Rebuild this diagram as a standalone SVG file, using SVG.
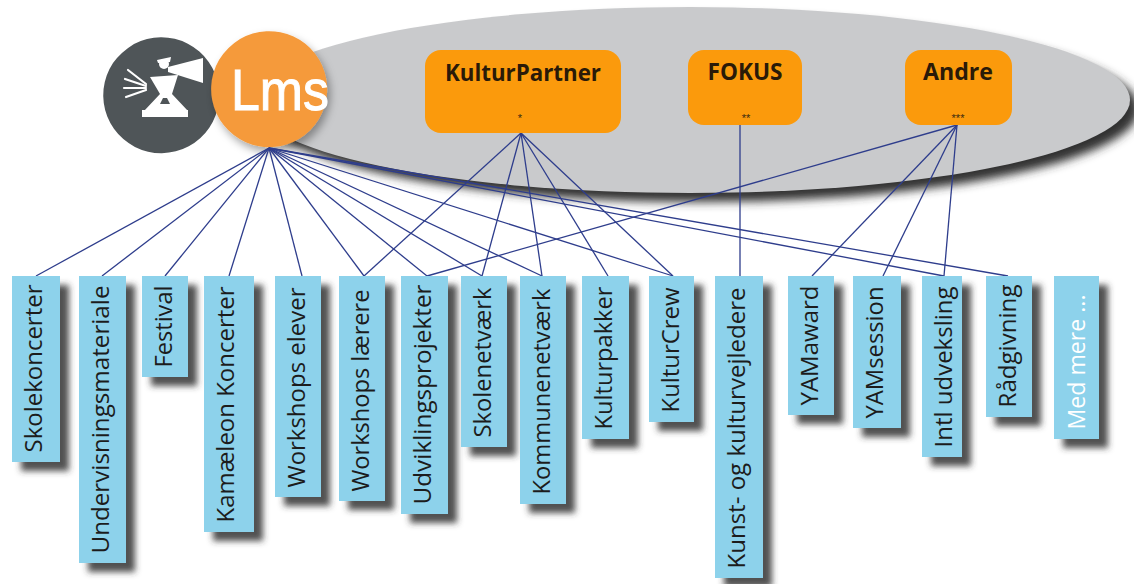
<svg xmlns="http://www.w3.org/2000/svg" width="1134" height="584" viewBox="0 0 1134 584">
<defs>
<filter id="shadow" x="-30%" y="-10%" width="170%" height="130%">
<feDropShadow dx="9" dy="9" stdDeviation="3" flood-color="#333" flood-opacity="0.85"/>
</filter>
<filter id="blur" x="-10%" y="-20%" width="120%" height="140%">
<feGaussianBlur stdDeviation="5"/>
</filter>
<filter id="soft" x="-20%" y="-20%" width="150%" height="150%">
<feDropShadow dx="3" dy="5" stdDeviation="4" flood-color="#000" flood-opacity="0.35"/>
</filter>
<style>
.item rect{fill:#8dd2eb;filter:url(#shadow)}
.item text{font-family:"Open Sans","Liberation Sans",sans-serif;font-size:24px;fill:#1c1c1c}
.item text.light{fill:#ffffff}
.top rect{fill:#fb9a0c}
.top .title{font-family:"Open Sans","Liberation Sans",sans-serif;font-weight:bold;font-size:24px;fill:#2a1a08;text-anchor:middle}
.top .star{font-family:"Liberation Sans",sans-serif;font-size:11px;fill:#3a2a10;text-anchor:middle}
#connectors line{stroke:#2e3d8c;stroke-width:1.3}
</style>
</defs>
<rect width="1134" height="584" fill="#ffffff"/>

<g id="ellipse">
<ellipse cx="699" cy="109" rx="440" ry="93" fill="#333333" filter="url(#blur)"/>
<ellipse cx="690" cy="100" rx="440" ry="93" fill="#c9cacc"/>
</g>

<g id="logo">
<path d="M134,44 A58,58 0 1 1 113,63 Q121,52 134,44 Z" fill="#4f5558"/>
<g fill="#ffffff">
<circle cx="164" cy="64" r="5"/>
<path d="M157,60 L171,57 L170,62 L158,63 Z"/>
<path d="M168,67 L203,58 L203,83 L168,72 Z"/>
<path d="M150,77 L178,75 L172,94 L188,111 L144,111 L160,94 Z"/>
<rect x="142" y="110" width="46" height="7"/>
</g>
<path d="M163,98 L167,98 L170,104 L160,104 Z" fill="#4f5558"/>
<g stroke="#ffffff" stroke-width="2.2" stroke-linecap="round">
<line x1="146" y1="84" x2="128" y2="70"/>
<line x1="146" y1="86" x2="125" y2="79"/>
<line x1="146" y1="88" x2="124" y2="88"/>
<line x1="146" y1="90" x2="126" y2="97"/>
</g>
<g filter="url(#soft)">
<path d="M240,39 A58,58 0 1 1 219,60 Q227,47 240,39 Z" fill="#f59a3b"/>
</g>
<text x="231" y="110" font-family="Liberation Sans,sans-serif" font-size="58" fill="#ffffff" stroke="#ffffff" stroke-width="1" textLength="98" lengthAdjust="spacingAndGlyphs">Lms</text>
</g>

<g id="connectors">
<line x1="269" y1="148" x2="36" y2="276"/>
<line x1="269" y1="148" x2="102" y2="276"/>
<line x1="269" y1="148" x2="165" y2="276"/>
<line x1="269" y1="148" x2="229" y2="276"/>
<line x1="269" y1="148" x2="302" y2="276"/>
<line x1="269" y1="148" x2="364" y2="276"/>
<line x1="269" y1="148" x2="427" y2="276"/>
<line x1="269" y1="148" x2="482" y2="276"/>
<line x1="269" y1="148" x2="542" y2="276"/>
<line x1="269" y1="148" x2="673" y2="276"/>
<line x1="269" y1="148" x2="944" y2="276"/>
<line x1="269" y1="148" x2="1008" y2="276"/>
<line x1="521" y1="133" x2="364" y2="276"/>
<line x1="521" y1="133" x2="482" y2="276"/>
<line x1="521" y1="133" x2="542" y2="276"/>
<line x1="521" y1="133" x2="608" y2="276"/>
<line x1="521" y1="133" x2="673" y2="276"/>
<line x1="740" y1="125" x2="740" y2="276"/>
<line x1="957" y1="125" x2="427" y2="276"/>
<line x1="957" y1="125" x2="812" y2="276"/>
<line x1="957" y1="125" x2="883" y2="276"/>
<line x1="957" y1="125" x2="944" y2="276"/>
</g>

<g id="kulturpartner" class="top">
<rect x="425" y="50" width="196" height="83" rx="16"/>
<text class="title" x="523" y="81" textLength="156" lengthAdjust="spacingAndGlyphs">KulturPartner</text>
<text class="star" x="520" y="122">*</text>
</g>
<g id="fokus" class="top">
<rect x="688" y="50" width="114" height="75" rx="16"/>
<text class="title" x="745" y="80" textLength="75" lengthAdjust="spacingAndGlyphs">FOKUS</text>
<text class="star" x="746" y="122">**</text>
</g>
<g id="andre" class="top">
<rect x="905" y="50" width="107" height="75" rx="16"/>
<text class="title" x="958" y="80" textLength="70" lengthAdjust="spacingAndGlyphs">Andre</text>
<text class="star" x="958" y="122">***</text>
</g>

<g id="skolekoncerter" class="item"><rect x="12" y="276" width="48" height="186"/><text x="42" y="452.5" transform="rotate(-90 42 452.5)" textLength="168" lengthAdjust="spacingAndGlyphs">Skolekoncerter</text></g>
<g id="undervisningsmateriale" class="item"><rect x="79" y="276" width="47" height="287"/><text x="109" y="553.5" transform="rotate(-90 109 553.5)" textLength="268" lengthAdjust="spacingAndGlyphs">Undervisningsmateriale</text></g>
<g id="festival" class="item"><rect x="142" y="276" width="46" height="101"/><text x="172" y="367.5" transform="rotate(-90 172 367.5)" textLength="82" lengthAdjust="spacingAndGlyphs">Festival</text></g>
<g id="kamaeleon" class="item"><rect x="204" y="276" width="50" height="256"/><text x="234" y="522.5" transform="rotate(-90 234 522.5)" textLength="236" lengthAdjust="spacingAndGlyphs">Kamæleon Koncerter</text></g>
<g id="workshops-elever" class="item"><rect x="275" y="276" width="46" height="221"/><text x="305" y="487.5" transform="rotate(-90 305 487.5)" textLength="200" lengthAdjust="spacingAndGlyphs">Workshops elever</text></g>
<g id="workshops-laerere" class="item"><rect x="339" y="276" width="46" height="225"/><text x="369" y="491.5" transform="rotate(-90 369 491.5)" textLength="202" lengthAdjust="spacingAndGlyphs">Workshops lærere</text></g>
<g id="udviklingsprojekter" class="item"><rect x="401" y="276" width="47" height="238"/><text x="431" y="504.5" transform="rotate(-90 431 504.5)" textLength="220" lengthAdjust="spacingAndGlyphs">Udviklingsprojekter</text></g>
<g id="skolenetvaerk" class="item"><rect x="461" y="276" width="46" height="171"/><text x="491" y="437.5" transform="rotate(-90 491 437.5)" textLength="150" lengthAdjust="spacingAndGlyphs">Skolenetværk</text></g>
<g id="kommunenetvaerk" class="item"><rect x="520" y="276" width="46" height="228"/><text x="550" y="494.5" transform="rotate(-90 550 494.5)" textLength="206" lengthAdjust="spacingAndGlyphs">Kommunenetværk</text></g>
<g id="kulturpakker" class="item"><rect x="582" y="276" width="47" height="163"/><text x="612" y="429.5" transform="rotate(-90 612 429.5)" textLength="143" lengthAdjust="spacingAndGlyphs">Kulturpakker</text></g>
<g id="kulturcrew" class="item"><rect x="649" y="276" width="45" height="146"/><text x="679" y="412.5" transform="rotate(-90 679 412.5)" textLength="125" lengthAdjust="spacingAndGlyphs">KulturCrew</text></g>
<g id="kunst" class="item"><rect x="715" y="276" width="48" height="302"/><text x="745" y="568.5" transform="rotate(-90 745 568.5)" textLength="281" lengthAdjust="spacingAndGlyphs">Kunst- og kulturvejledere</text></g>
<g id="yamaward" class="item"><rect x="788" y="276" width="46" height="139"/><text x="818" y="405.5" transform="rotate(-90 818 405.5)" textLength="120" lengthAdjust="spacingAndGlyphs">YAMaward</text></g>
<g id="yamsession" class="item"><rect x="853" y="276" width="48" height="152"/><text x="883" y="418.5" transform="rotate(-90 883 418.5)" textLength="132" lengthAdjust="spacingAndGlyphs">YAMsession</text></g>
<g id="intl" class="item"><rect x="922" y="276" width="40" height="181"/><text x="952" y="447.5" transform="rotate(-90 952 447.5)" textLength="161" lengthAdjust="spacingAndGlyphs">Intl udveksling</text></g>
<g id="raadgivning" class="item"><rect x="986" y="276" width="46" height="141"/><text x="1016" y="407.5" transform="rotate(-90 1016 407.5)" textLength="123" lengthAdjust="spacingAndGlyphs">Rådgivning</text></g>
<g id="med-mere" class="item"><rect x="1054" y="276" width="45" height="163"/><text class="light" x="1085" y="429.5" transform="rotate(-90 1085 429.5)" textLength="135" lengthAdjust="spacingAndGlyphs">Med mere ...</text></g>
</svg>
